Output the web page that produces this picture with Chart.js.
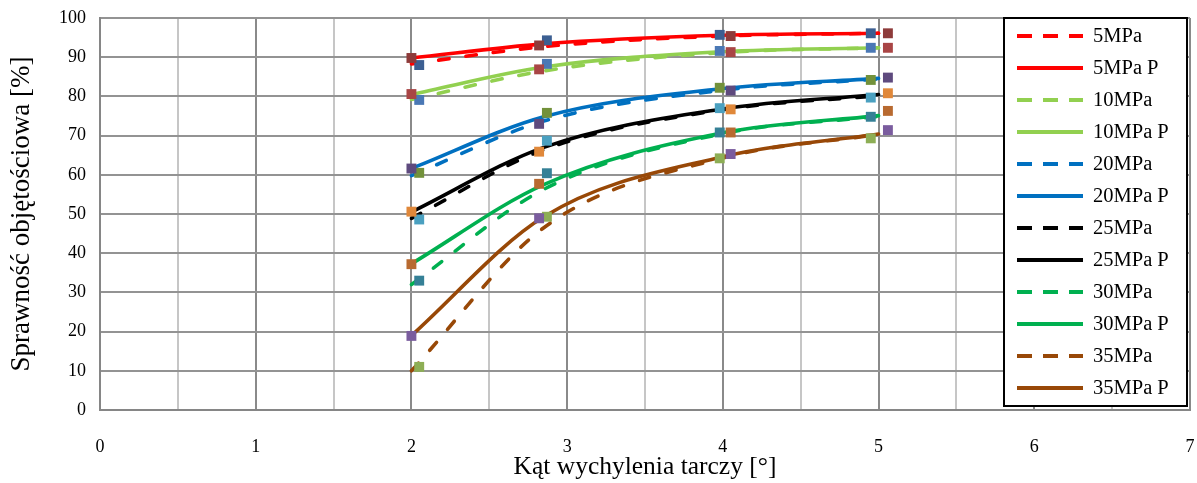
<!DOCTYPE html>
<html>
<head>
<meta charset="utf-8">
<script src="https://cdn.jsdelivr.net/npm/chart.js@4/dist/chart.umd.min.js"></script>
<style>
  body{margin:0;background:#fff;}
  #wrap{width:1197px;height:483px;}
</style>
</head>
<body>
<div id="wrap"><canvas id="chart" width="1197" height="483"></canvas></div>
<script>
// DATA
const pressures = ["5MPa","10MPa","20MPa","25MPa","30MPa","35MPa"];
const lineColors = ["#FF0000","#92D050","#0070C0","#000000","#00B050","#984807"];

// smooth curves (dashed = measured, solid = "P")
const xLine = [2, 2.85, 4, 5];
const lineDashed = [
    [88.3, 92.7, 95.4, 96.1],
    [79.2, 86.5, 91.2, 92.4],
    [59.8, 73.7, 81.6, 84.4],
    [48.9, 66.4, 76.6, 80.2],
    [32.0, 56.3, 70.5, 74.9],
    [10.0, 46.5, 64.3, 70.3]
];
const lineSolid = [
    [89.8, 93.4, 95.6, 96.1],
    [80.5, 87.5, 91.4, 92.4],
    [61.6, 74.8, 82.0, 84.6],
    [50.5, 67.0, 76.8, 80.5],
    [37.3, 57.5, 70.7, 75.1],
    [19.0, 49.3, 64.6, 70.4]
];

// square markers, two groups slightly shifted in x
const xMarkA = [2.0, 2.82, 4.05, 5.06];
const xMarkB = [2.05, 2.87, 3.98, 4.95];
const markA = [
    [89.8, 93.0, 95.4, 96.1],
    [80.6, 86.9, 91.3, 92.4],
    [61.6, 73.0, 81.5, 84.8],
    [50.6, 65.9, 76.7, 80.8],
    [37.2, 57.7, 70.8, 76.3],
    [18.9, 48.9, 65.3, 71.4]
];
const markB = [
    [88.0, 94.3, 95.7, 96.1],
    [79.1, 88.3, 91.6, 92.4],
    [60.5, 75.8, 82.2, 84.2],
    [48.6, 68.7, 77.0, 79.7],
    [33.0, 60.4, 70.8, 74.8],
    [11.0, 49.3, 64.2, 69.3]
];
const markColorsA = ["#8E3B3A","#A94545","#5E4A7E","#E0883A","#B86A30","#7A5C9E"];
const markColorsB = ["#3C5F92","#4A78B5","#72913A","#4AA0C0","#358096","#8DAE55"];

const toPts = (xs, ys) => xs.map((x,i)=>({x:x, y:ys[i]}));

// BUILD DATASETS
const datasets = [];
// markers first so they are drawn on top
pressures.forEach((p,i)=>{
    [[xMarkA, markA, markColorsA], [xMarkB, markB, markColorsB]].forEach(([xs, vals, cols])=>{
        datasets.push({
            label: p + " pts",
            data: toPts(xs, vals[i]),
            showLine: false,
            pointStyle: 'rect',
            pointRadius: 7,
            pointBackgroundColor: cols[i],
            pointBorderColor: cols[i],
            pointBorderWidth: 0,
            inLegend: false
        });
    });
});
pressures.forEach((p,i)=>{
    datasets.push({
        label: p,
        data: toPts(xLine, lineDashed[i]),
        showLine: true,
        borderColor: lineColors[i],
        borderWidth: 3.6,
        borderDash: [10.5, 17],
        borderCapStyle: 'round',
        cubicInterpolationMode: 'monotone',
        pointRadius: 0,
        inLegend: true
    });
    datasets.push({
        label: p + " P",
        data: toPts(xLine, lineSolid[i]),
        showLine: true,
        borderColor: lineColors[i],
        borderWidth: 3.6,
        borderCapStyle: 'round',
        cubicInterpolationMode: 'monotone',
        pointRadius: 0,
        inLegend: true
    });
});

// LEGEND BOX inside the plot area
const boxLegend = {
    id: 'boxLegend',
    afterDraw(chart){
        const ctx = chart.ctx;
        const area = chart.chartArea;
        const items = chart.data.datasets.filter(d=>d.inLegend);
        const left = area.right - 186, top = area.top, w = 183, h = 388;
        ctx.save();
        ctx.fillStyle = '#fff';
        ctx.fillRect(left, top, w, h);
        ctx.strokeStyle = '#000';
        ctx.lineWidth = 2;
        ctx.strokeRect(left, top, w, h);
        ctx.font = '20.5px "Liberation Serif", "Times New Roman", serif';
        ctx.textBaseline = 'middle';
        items.forEach((d,i)=>{
            const y = top + 18 + i*32;
            ctx.beginPath();
            ctx.setLineDash(d.borderDash ? [15, 11] : []);
            ctx.strokeStyle = d.borderColor;
            ctx.lineWidth = 4;
            ctx.moveTo(left + 13, y);
            ctx.lineTo(left + 79, y);
            ctx.stroke();
            ctx.setLineDash([]);
            ctx.fillStyle = '#000';
            ctx.fillText(d.label, left + 89, y + 1);
        });
        ctx.restore();
    }
};

Chart.defaults.font.family = '"Liberation Serif", "Times New Roman", serif';
Chart.defaults.color = '#000';

new Chart(document.getElementById('chart'), {
    type: 'scatter',
    data: { datasets },
    options: {
        responsive: false,
        animation: false,
        layout: { padding: { top: 18, right: 7, left: 0, bottom: 0 } },
        plugins: { legend: { display: false }, tooltip: { enabled: false } },
        scales: {
            x: {
                type: 'linear', min: 0, max: 7,
                afterFit: s => { s.height = 73; s.paddingLeft = 0; s.paddingRight = 0; },
                ticks: {
                    stepSize: 0.5, autoSkip: false, maxRotation: 0, padding: 26,
                    font: { size: 18 }, color: '#000',
                    callback: v => Number.isInteger(v) ? v : ''
                },
                grid: {
                    drawTicks: false, lineWidth: 2,
                    color: c => (c.tick && Number.isInteger(c.tick.value)) ? '#8a8a8a' : '#c6c6c6'
                },
                border: { color: '#868686', width: 2 },
                title: { display: true, text: 'Kąt wychylenia tarczy [°]', font: { size: 25.5 }, color: '#000', padding: { top: 0, bottom: 0 } }
            },
            y: {
                min: 0, max: 100,
                afterFit: s => { s.width = 100; s.paddingTop = 0; s.paddingBottom = 0; },
                ticks: { stepSize: 10, padding: 14, font: { size: 18 }, color: '#000' },
                grid: { drawTicks: false, lineWidth: 2, color: '#939393' },
                border: { color: '#868686', width: 2 },
                title: { display: true, text: 'Sprawność objętościowa [%]', font: { size: 27 }, color: '#000', padding: { top: 6, bottom: 0 } }
            }
        }
    },
    plugins: [boxLegend]
});
</script>
</body>
</html>
